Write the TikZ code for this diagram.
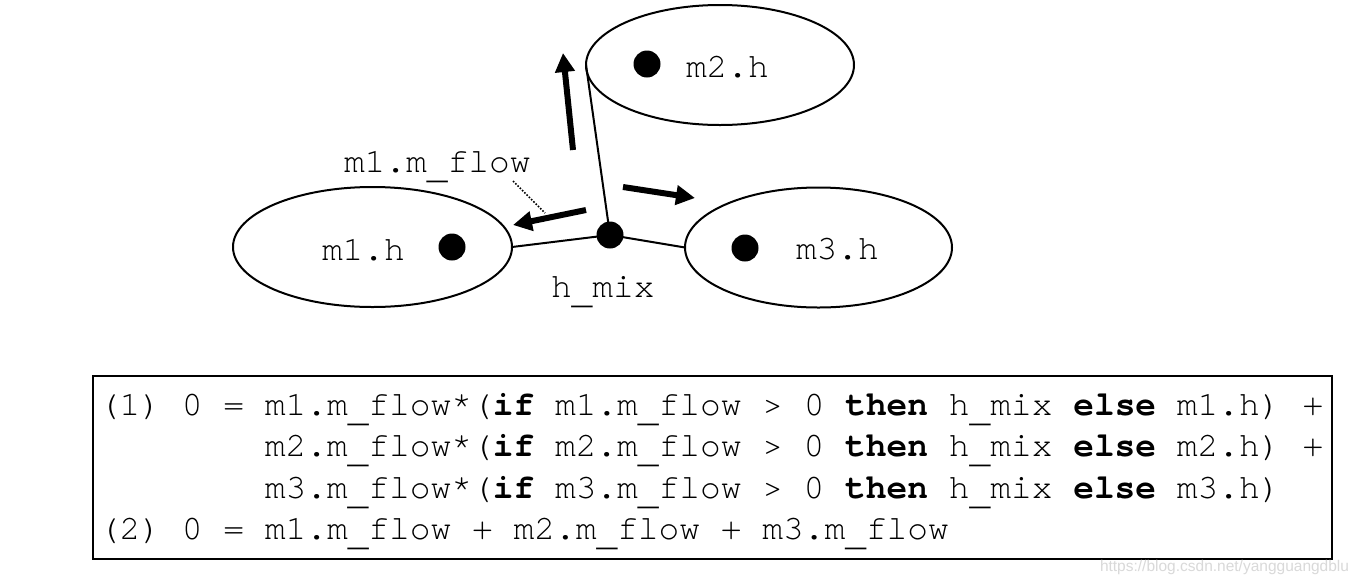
\documentclass[tikz,border=0pt]{standalone}
\usepackage{fontspec}
\usetikzlibrary{shapes.geometric,arrows.meta}
\newfontfamily\cour{texgyrecursor}[Extension=.otf,UprightFont=*-regular,BoldFont=*-bold,Kerning=Off,Ligatures=NoCommon]
\newfontfamily\wmfont{Liberation Sans}
\newcommand\us{\raisebox{-6pt}{\_}}
\begin{document}
\begin{tikzpicture}[x=1pt,y=-1pt,
  every node/.style={inner sep=0pt,outer sep=0pt},
  vol/.style={ellipse,draw,line width=2pt,minimum height=120pt},
  blob/.style={circle,fill=black,minimum size=27pt},
  lbl/.style={anchor=base west,font=\cour\fontsize{34.55}{41}\selectfont},
  wire/.style={line width=2pt},
  flowarrow/.style={line width=6pt,-{Triangle[length=19pt,width=19pt]}},
  leader/.style={line width=1.6pt,dash pattern=on 1.6pt off 1.6pt}]
\useasboundingbox[fill=white] (0,0) rectangle (1363,582);

% volumes
\node[vol,minimum width=279pt] (m1e) at (372.5,247) {};
\node[vol,minimum width=268pt] (m2e) at (720,65) {};
\node[vol,minimum width=267pt] (m3e) at (818.5,247.5) {};

% connections
\coordinate (mix) at (610,235);
\draw[wire] (mix) -- (m1e.east);
\draw[wire] (mix) -- (m3e.west);
\draw[wire] (mix) -- (m2e.west);

% dots
\node[blob] (hmix) at (mix) {};
\node[blob] (d1) at (452,247) {};
\node[blob] (d2) at (647,64) {};
\node[blob] (d3) at (745,248) {};

% labels
\node[lbl] (t1) at (322,260) {m1.h};
\node[lbl] (t2) at (686,77) {m2.h};
\node[lbl] (t3) at (796,259) {m3.h};
\node[lbl] (tmix) at (551,297) {h\us mix};
\node[lbl] (tflow) at (344,172) {m1.m\us flow};

% flow arrows
\coordinate (upA) at (573,150);
\coordinate (upB) at (563,53);
\coordinate (rA) at (623,187);
\coordinate (rB) at (695,198);
\coordinate (lA) at (586,210);
\coordinate (lB) at (513,225);
\draw[flowarrow] (upA) -- (upB);
\draw[flowarrow] (rA) -- (rB);
\draw[flowarrow] (lA) -- (lB);

% leader from label to arrow
\coordinate (ldA) at (513,181);
\coordinate (ldB) at (545,213);
\draw[leader] (ldA) -- (ldB);

% equations box
\draw[line width=2pt] (93,376) rectangle (1332,559);
\node[lbl] (eq1) at (99,415) {(1) 0 = m1.m\us flow*(\textbf{if} m1.m\us flow > 0 \textbf{then} h\us mix \textbf{else} m1.h)\hspace{22pt}+};
\node[lbl] (eq2) at (264.8,456.5) {m2.m\us flow*(\textbf{if} m2.m\us flow > 0 \textbf{then} h\us mix \textbf{else} m2.h)\hspace{22pt}+};
\node[lbl] (eq3) at (264.8,498) {m3.m\us flow*(\textbf{if} m3.m\us flow > 0 \textbf{then} h\us mix \textbf{else} m3.h)};
\node[lbl] (eq4) at (99,539.5) {(2) 0 = m1.m\us flow + m2.m\us flow + m3.m\us flow};

% watermark
\node[anchor=base west,font=\wmfont\fontsize{15.5}{18}\selectfont,text=gray!30] (wm) at (1100,571) {https://blog.csdn.net/yangguangdblu};
\end{tikzpicture}
\end{document}
